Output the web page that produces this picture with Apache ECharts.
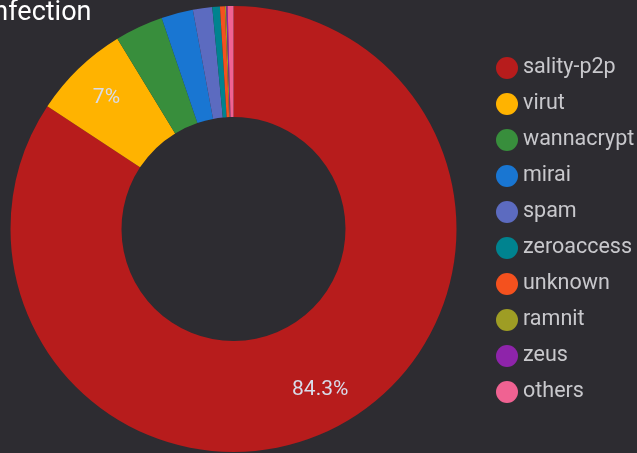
<!DOCTYPE html>
<html>
<head>
<meta charset="utf-8">
<script src="https://cdn.jsdelivr.net/npm/echarts@6/dist/echarts.min.js"></script>
<style>
  html, body { margin: 0; padding: 0; background: #2d2c31; }
  #chart { width: 637px; height: 453px; }
</style>
</head>
<body>
<div id="chart"></div>
<script>
const names = ['sality-p2p', 'virut', 'wannacrypt', 'mirai', 'spam', 'zeroaccess', 'unknown', 'ramnit', 'zeus', 'others'];
const shares = [84.3, 7.0, 3.5, 2.3, 1.4, 0.55, 0.35, 0.1, 0.1, 0.42];
const colors = ['#b71c1c', '#ffb300', '#388e3c', '#1976d2', '#5c6bc0', '#00838f', '#f4511e', '#9e9d24', '#8e24aa', '#f06292'];

const chart = echarts.init(document.getElementById('chart'));

const pieData = names.map((n, i) => ({ name: n, value: shares[i] }));

chart.setOption({
  backgroundColor: '#2d2c31',
  color: colors,
  title: {
    text: 'Infection',
    left: -19,
    top: -5,
    textStyle: { color: '#ffffff', fontFamily: 'Roboto', fontSize: 27, fontWeight: 'normal' }
  },
  legend: {
    orient: 'vertical',
    left: 491,
    top: 52,
    icon: 'circle',
    itemWidth: 22,
    itemHeight: 22,
    itemGap: 14,
    textStyle: { color: '#c8c8cc', fontFamily: 'Roboto', fontSize: 21.5 },
    data: names
  },
  series: [{
    type: 'pie',
    center: [233.5, 229],
    radius: [112, 223],
    startAngle: 90,
    clockwise: true,
    itemStyle: { borderWidth: 0 },
    label: { show: false },
    labelLine: { show: false },
    data: pieData
  }, {
    // label-only ring, so the percentages sit a bit further out
    type: 'pie',
    center: [233.5, 229],
    radius: [137, 223],
    startAngle: 90,
    clockwise: true,
    silent: true,
    percentPrecision: 1,
    minShowLabelAngle: 15,
    avoidLabelOverlap: false,
    itemStyle: { color: 'rgba(0,0,0,0)', borderWidth: 0 },
    emphasis: { disabled: true },
    label: {
      show: true,
      position: 'inside',
      formatter: '{d}%',
      color: '#d8dcea',
      fontFamily: 'Roboto',
      fontSize: 21
    },
    labelLine: { show: false },
    data: pieData
  }]
});
</script>
</body>
</html>
